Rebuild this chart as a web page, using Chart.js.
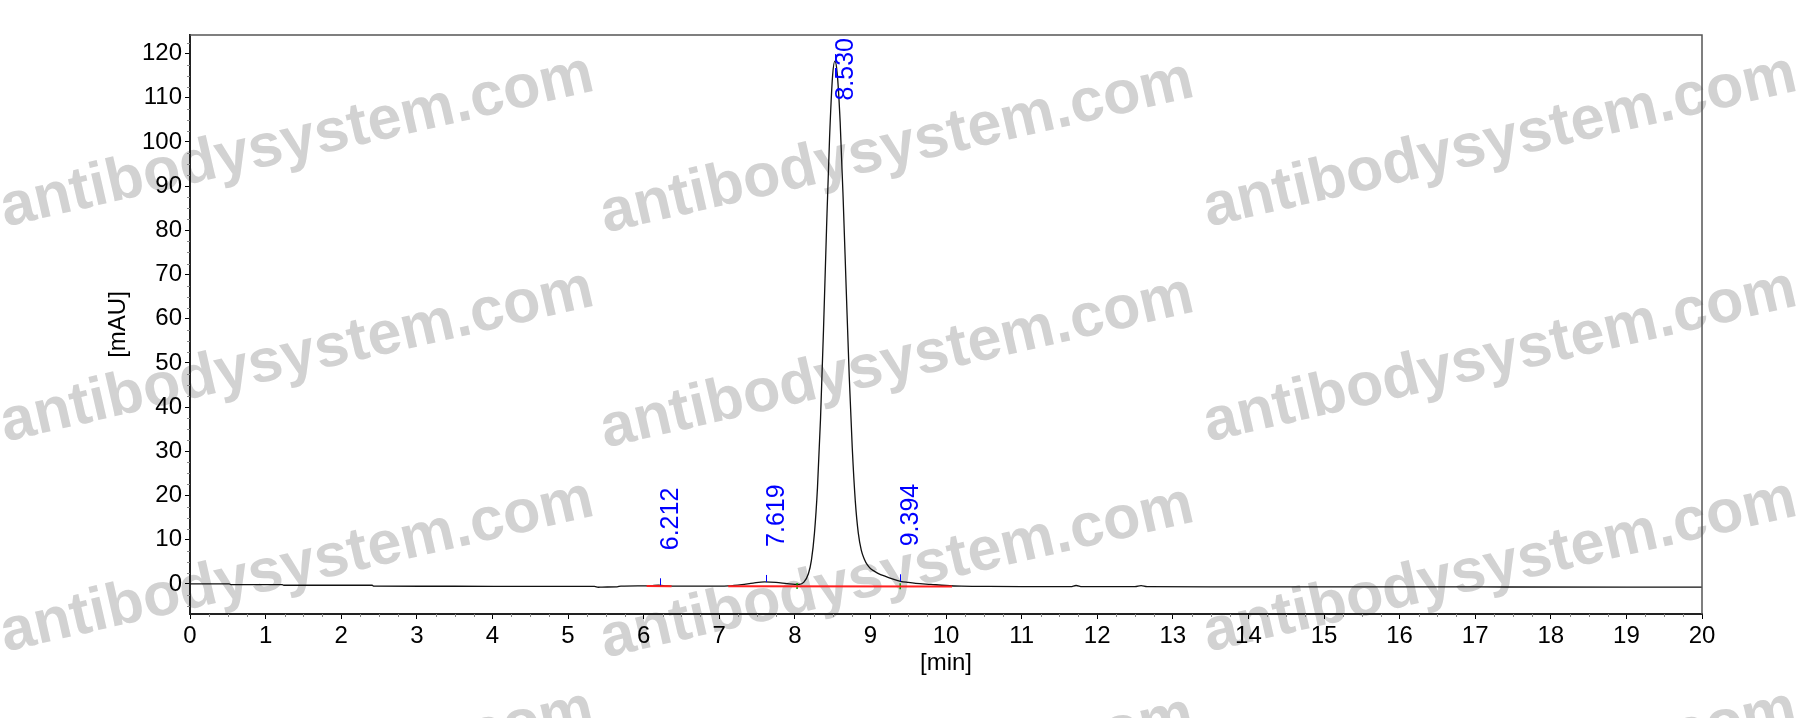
<!DOCTYPE html>
<html>
<head>
<meta charset="utf-8">
<script src="https://cdn.jsdelivr.net/npm/chart.js@4.4.1/dist/chart.umd.min.js"></script>
<style>
	html, body { margin: 0; padding: 0; background: #fff; }
	#wrap { width: 1818px; height: 718px; }
</style>
</head>
<body>
<div id="wrap"><canvas id="chart" width="1818" height="718"></canvas></div>
<script>
// retention time [min] and absorbance [mAU]
var timeMin = [0, 0.52, 0.54, 1.22, 1.24, 2.41, 2.43, 3.5, 4.5, 5.35, 5.40, 5.45, 5.65, 5.70, 6.0, 6.1, 6.2, 6.3, 6.45, 6.8,
	7.0, 7.12, 7.3, 7.45, 7.6, 7.75, 7.9, 8.0, 8.06, 8.12, 8.18, 8.22, 8.26, 8.30, 8.34, 8.38, 8.42, 8.46, 8.50, 8.53,
	8.56, 8.60, 8.64, 8.68, 8.72, 8.76, 8.80, 8.84, 8.88, 8.92, 8.96, 9.00, 9.05, 9.10, 9.20, 9.30, 9.40, 9.50, 9.60, 9.80,
	10.0, 10.2, 10.5, 11.0, 11.65, 11.72, 11.80, 12.5, 12.58, 12.66, 13.5, 15, 17, 19, 20];
var signalMAU = [0, 0, -0.15, -0.15, -0.3, -0.3, -0.5, -0.52, -0.55, -0.55, -0.75, -0.7, -0.65, -0.5, -0.45, -0.4, -0.3, -0.42, -0.5, -0.5,
	-0.5, -0.45, -0.15, 0.2, 0.45, 0.35, 0.05, -0.1, -0.1, 0.4, 2.3, 5.4, 11.5, 21.8, 37.3, 57.7, 80.5, 101, 115, 118.3,
	115.7, 104.5, 87, 66.8, 47, 30.8, 18.8, 11.5, 7.6, 5.6, 4.3, 3.5, 2.9, 2.4, 1.7, 1.1, 0.6, 0.35, 0.15, -0.1,
	-0.35, -0.5, -0.55, -0.6, -0.6, -0.35, -0.6, -0.62, -0.4, -0.62, -0.65, -0.65, -0.68, -0.7, -0.7];

// integrated peaks
var peakTimes = [6.212, 7.619, 8.530, 9.394];
var peakHeights = [-0.3, 0.45, 118.3, 0.6];

// integration baselines (red)
var baseA_t = [6.04, 6.37];
var baseA_v = [-0.45, -0.5];
var baseB_t = [7.12, 10.08];
var baseB_v = [-0.5, -0.6];

// peak split marks (green)
var splitTimes = [8.03, 9.394];
var splitValues = [-0.45, -0.5];

var xTicks = [0, 1, 2, 3, 4, 5, 6, 7, 8, 9, 10, 11, 12, 13, 14, 15, 16, 17, 18, 19, 20];
var yTicks = [0, 10, 20, 30, 40, 50, 60, 70, 80, 90, 100, 110, 120];
var xMin = 0, xMax = 20, yMin = -6.8, yMax = 124.2;

var FONT = 'Liberation Sans, Arial, sans-serif';

function pts(xs, ys) {
	var out = [];
	for (var i = 0; i < xs.length; i++) out.push({x: xs[i], y: ys[i]});
	return out;
}

var watermark = {
	id: 'watermark',
	beforeDraw: function(chart) {
		var ctx = chart.ctx;
		var cols = [297, 897, 1500];
		var rows = [142, 357, 567, 777];
		ctx.save();
		ctx.fillStyle = '#d2d2d2';
		ctx.font = 'bold 61px ' + FONT;
		ctx.textAlign = 'center';
		ctx.textBaseline = 'middle';
		for (var r = 0; r < rows.length; r++) {
			for (var c = 0; c < cols.length; c++) {
				ctx.save();
				ctx.translate(cols[c], rows[r] + (c == 1 ? 6 : 0));
				ctx.rotate(-13 * Math.PI / 180);
				ctx.fillText('antibodysystem.com', 0, 0);
				ctx.restore();
			}
		}
		ctx.restore();
	}
};

var frame = {
	id: 'frame',
	afterDraw: function(chart) {
		var ctx = chart.ctx, a = chart.chartArea;
		var xs = chart.scales.x, ys = chart.scales.y;
		ctx.save();
		// top / right border
		ctx.strokeStyle = '#555';
		ctx.lineWidth = 1.5;
		ctx.beginPath();
		ctx.moveTo(a.left, a.top);
		ctx.lineTo(a.right, a.top);
		ctx.lineTo(a.right, a.bottom);
		ctx.stroke();
		// minor ticks
		ctx.strokeStyle = '#888';
		ctx.lineWidth = 1;
		ctx.beginPath();
		for (var t = xMin; t <= xMax; t += 0.25) {
			if (Math.abs(t - Math.round(t)) < 1e-6) continue;
			var px = Math.round(xs.getPixelForValue(t)) + 0.5;
			ctx.moveTo(px, a.bottom);
			ctx.lineTo(px, a.bottom + 3);
		}
		for (var v = -5; v <= yMax; v += 2.5) {
			if (Math.abs(v / 10 - Math.round(v / 10)) < 1e-6) continue;
			var py = Math.round(ys.getPixelForValue(v)) + 0.5;
			ctx.moveTo(a.left, py);
			ctx.lineTo(a.left - 3, py);
		}
		ctx.stroke();
		ctx.restore();
	}
};

var peakLabels = {
	id: 'peakLabels',
	afterDatasetsDraw: function(chart) {
		var ctx = chart.ctx, a = chart.chartArea;
		var xs = chart.scales.x, ys = chart.scales.y;
		ctx.save();
		ctx.font = '25px ' + FONT;
		ctx.fillStyle = '#0000ff';
		ctx.strokeStyle = '#0000ff';
		ctx.lineWidth = 1;
		ctx.textAlign = 'left';
		ctx.textBaseline = 'middle';
		for (var i = 0; i < peakTimes.length; i++) {
			var txt = peakTimes[i].toFixed(3);
			var px = xs.getPixelForValue(peakTimes[i]);
			var py = ys.getPixelForValue(peakHeights[i]);
			var w = ctx.measureText(txt).width;
			// tick mark on the trace
			ctx.beginPath();
			ctx.moveTo(Math.round(px) + 0.5, py);
			ctx.lineTo(Math.round(px) + 0.5, py - 7);
			ctx.stroke();
			var bottom = py - 35;
			if (bottom - w < a.top + 3) bottom = a.top + 3 + w;
			ctx.save();
			ctx.translate(px + 11, bottom);
			ctx.rotate(-Math.PI / 2);
			ctx.fillText(txt, 0, 0);
			ctx.restore();
		}
		ctx.restore();
	}
};

var ctx = document.getElementById('chart').getContext('2d');
var chart = new Chart(ctx, {
	type: 'line',
	data: {
		datasets: [
			{ data: pts(baseA_t, baseA_v), borderColor: '#ff2020', borderWidth: 2, pointRadius: 0 },
			{ data: pts(baseB_t, baseB_v), borderColor: '#ff2020', borderWidth: 2, pointRadius: 0 },
			{ data: pts(splitTimes, splitValues), showLine: false, pointStyle: 'line', rotation: 90,
				pointRadius: 3, borderColor: '#00a000', borderWidth: 1.5 },
			{ data: pts(timeMin, signalMAU), borderColor: '#111', borderWidth: 1.3, pointRadius: 0,
				cubicInterpolationMode: 'monotone' }
		]
	},
	options: {
		responsive: false,
		animation: false,
		devicePixelRatio: 1,
		layout: { padding: { left: 0, right: 116, top: 35, bottom: 0 } },
		plugins: { legend: { display: false }, tooltip: { enabled: false } },
		scales: {
			x: {
				type: 'linear',
				min: xMin,
				max: xMax,
				afterBuildTicks: function(s) { s.ticks = xTicks.map(function(v) { return {value: v}; }); },
				afterFit: function(s) { s.height = 104; },
				grid: { drawOnChartArea: false, tickLength: 5, color: '#000', lineWidth: 1 },
				border: { color: '#222', width: 2 },
				ticks: { color: '#000', font: { family: FONT, size: 24 }, padding: 3, maxRotation: 0 },
				title: { display: true, text: '[min]', color: '#000', font: { family: FONT, size: 24 },
					padding: { top: 0, bottom: 40 } }
			},
			y: {
				type: 'linear',
				min: yMin,
				max: yMax,
				afterBuildTicks: function(s) { s.ticks = yTicks.map(function(v) { return {value: v}; }); },
				afterFit: function(s) { s.width = 190; },
				grid: { drawOnChartArea: false, tickLength: 5, color: '#000', lineWidth: 1 },
				border: { color: '#222', width: 2 },
				ticks: { color: '#000', font: { family: FONT, size: 24 }, padding: 3 },
				title: { display: true, text: '[mAU]', color: '#000', font: { family: FONT, size: 24 },
					padding: { top: 104, bottom: 0 } }
			}
		}
	},
	plugins: [watermark, frame, peakLabels]
});
</script>
</body>
</html>
